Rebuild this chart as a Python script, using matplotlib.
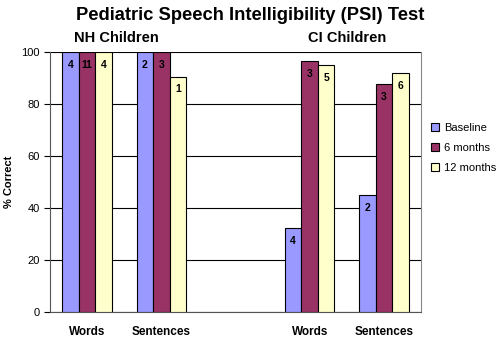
import matplotlib.pyplot as plt
import numpy as np

plt.rcParams['font.family'] = ['Liberation Sans', 'DejaVu Sans']

categories = ["Words", "Sentences", "", "Words", "Sentences"]
series = ["Baseline", "6 months", "12 months"]
baseline = [100, 100, np.nan, 32.3, 45]
six_months = [100, 100, np.nan, 96.5, 87.5]
twelve_months = [100, 90.5, np.nan, 95, 92]
n_baseline = ["4", "2", "", "4", "2"]
n_six = ["11", "3", "", "3", "3"]
n_twelve = ["4", "1", "", "5", "6"]
colors = ["#9999FF", "#993366", "#FFFFCC"]

fig = plt.figure(figsize=(5, 3.37), dpi=100)
ax = fig.add_axes([0.1, 0.0742, 0.742, 0.7715])

x = np.arange(len(categories))
w = 0.222
for i, (vals, labs) in enumerate(zip([baseline, six_months, twelve_months],
                                     [n_baseline, n_six, n_twelve])):
    ax.bar(x + (i - 1) * w, vals, w, color=colors[i], edgecolor="black",
           linewidth=0.8, label=series[i], zorder=3)
    for xb, v, t in zip(x + (i - 1) * w, vals, labs):
        if t:
            ax.text(xb, v - 3, t, ha="center", va="top", fontsize=7.5,
                    fontweight="bold", zorder=4)

ax.set_xlim(-0.5, 4.5)
ax.set_ylim(0, 100)
ax.set_yticks([0, 20, 40, 60, 80, 100])
ax.yaxis.grid(True, color="black", linewidth=0.8, zorder=0)
ax.set_xticks([0, 1, 3, 4])
ax.set_xticklabels(["Words", "Sentences", "Words", "Sentences"],
                   fontsize=8.5, fontweight="bold")
ax.tick_params(axis="x", length=0, pad=10)
ax.tick_params(axis="y", labelsize=8, length=4, color="black")
for s in ["left", "bottom"]:
    ax.spines[s].set_color("#555555")
ax.spines["right"].set_color("#888888")
ax.spines["top"].set_visible(False)
ax.set_ylabel("% Correct", fontsize=8, fontweight="bold", labelpad=5)

fig.text(0.5, 0.955, "Pediatric Speech Intelligibility (PSI) Test",
         ha="center", va="center", fontsize=13.2, fontweight="bold")
fig.text(0.233, 0.888, "NH Children", ha="center", va="center",
         fontsize=10.5, fontweight="bold")
fig.text(0.694, 0.888, "CI Children", ha="center", va="center",
         fontsize=10.5, fontweight="bold")

ax.legend(loc="center left", bbox_to_anchor=(1.0, 0.63), frameon=False,
          fontsize=8, handlelength=0.7, handleheight=0.7, handletextpad=0.5,
          labelspacing=0.9, borderaxespad=0.5)

fig.savefig("out.png", dpi=100)
